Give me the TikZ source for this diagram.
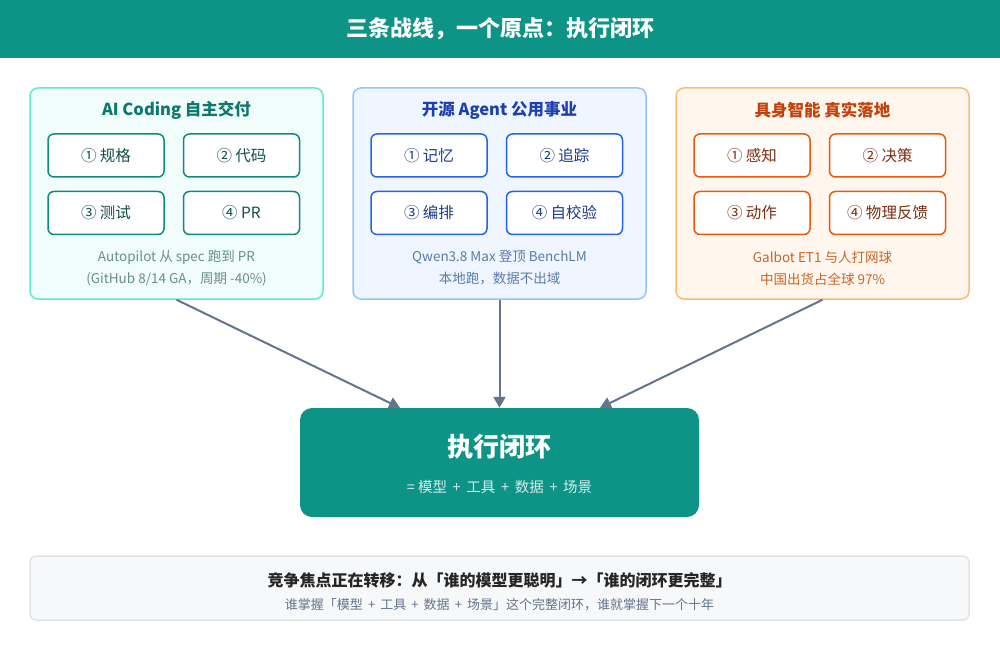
\documentclass[tikz,border=0pt]{standalone}
\usepackage{fontspec}
\setmainfont{Noto Sans CJK SC}
\usetikzlibrary{positioning,calc,arrows.meta}
\definecolor{teal0}{HTML}{0E9486}
\definecolor{slate}{HTML}{64748B}
\definecolor{gfill}{HTML}{F0FDFA}\definecolor{gline}{HTML}{5EEAD4}\definecolor{gdark}{HTML}{0F766E}\definecolor{gbox}{HTML}{0F8A7E}\definecolor{gtext}{HTML}{134E4A}\definecolor{gcap}{HTML}{6B8F8A}
\definecolor{bfill}{HTML}{EFF6FF}\definecolor{bline}{HTML}{93C5FD}\definecolor{bdark}{HTML}{1E40AF}\definecolor{bbox}{HTML}{2563EB}\definecolor{btext}{HTML}{1E3A8A}\definecolor{bcap}{HTML}{5B7BA6}
\definecolor{ofill}{HTML}{FFF7ED}\definecolor{oline}{HTML}{FDBA74}\definecolor{odark}{HTML}{C2410C}\definecolor{obox}{HTML}{EA580C}\definecolor{otext}{HTML}{7C2D12}\definecolor{ocap}{HTML}{C8652A}
\begin{document}
\begin{tikzpicture}[x=1pt,y=-1pt,
	panel/.style = {draw,line width=1.5pt,rounded corners=8pt,minimum width=293pt,minimum height=211pt,inner sep=0pt},
	stage/.style = {draw,line width=1.5pt,rounded corners=6pt,fill=white,minimum width=116pt,minimum height=43pt,inner sep=0pt,font=\fontsize{15.5}{18}\selectfont},
	ptitle/.style = {font=\fontsize{16.5}{20}\selectfont\bfseries},
	caption/.style = {font=\fontsize{13.5}{22}\selectfont,align=center},
	feed/.style = {draw=slate,line width=2pt,-{Triangle[length=11pt,width=12pt]}}]
	\useasboundingbox (0,0) rectangle (1000,660);
	\fill[teal0] (0,0) rectangle (1000,58);
	\node[text=white,font=\fontsize{22}{26}\selectfont\bfseries] (title) at (500,29) {三条战线，一个原点：执行闭环};
	
	% left panel
	\node[panel,draw=gline,fill=gfill] (cod) at (176.5,193.5) {};
	\node[ptitle,text=gdark] (codt) at (176.5,110) {AI Coding 自主交付};
	\node[stage,draw=gbox,text=gtext] (c1) at (106,155.5) {① 规格};
	\node[stage,draw=gbox,text=gtext] (c2) [right=18pt of c1] {② 代码};
	\node[stage,draw=gbox,text=gtext] (c3) [below=13pt of c1] {③ 测试};
	\node[stage,draw=gbox,text=gtext] (c4) [right=18pt of c3] {④ PR};
	\node[caption,text=gcap] (codc) at (176.5,268) {Autopilot 从 spec 跑到 PR\\(GitHub 8/14 GA，周期 -40\%)};
	
	% middle panel
	\node[panel,draw=bline,fill=bfill] (oss) at (499.5,193.5) {};
	\node[ptitle,text=bdark] (osst) at (499.5,110) {开源 Agent 公用事业};
	\node[stage,draw=bbox,text=btext] (o1) at (429,155.5) {① 记忆};
	\node[stage,draw=bbox,text=btext] (o2) [right=18pt of o1] {② 追踪};
	\node[stage,draw=bbox,text=btext] (o3) [below=13pt of o1] {③ 编排};
	\node[stage,draw=bbox,text=btext] (o4) [right=18pt of o3] {④ 自校验};
	\node[caption,text=bcap] (ossc) at (499.5,268) {Qwen3.8 Max 登顶 BenchLM\\本地跑，数据不出域};
	
	% right panel
	\node[panel,draw=oline,fill=ofill] (emb) at (822.5,193.5) {};
	\node[ptitle,text=odark] (embt) at (822.5,110) {具身智能 真实落地};
	\node[stage,draw=obox,text=otext] (e1) at (752,155.5) {① 感知};
	\node[stage,draw=obox,text=otext] (e2) [right=18pt of e1] {② 决策};
	\node[stage,draw=obox,text=otext] (e3) [below=13pt of e1] {③ 动作};
	\node[stage,draw=obox,text=otext] (e4) [right=18pt of e3] {④ 物理反馈};
	\node[caption,text=ocap] (embc) at (822.5,268) {Galbot ET1 与人打网球\\中国出货占全球 97\%};
	
	% centre
	\node[fill=teal0,rounded corners=12pt,minimum width=399pt,minimum height=109pt] (loop) at (499.5,462.5) {};
	\node[text=white,font=\fontsize{26}{30}\selectfont\bfseries] (loopt) at (499.5,447) {执行闭环};
	\node[text=teal!15,font=\fontsize{14.5}{17}\selectfont] (loops) at (499.5,487) {=\ 模型 \,+\, 工具 \,+\, 数据 \,+\, 场景};
	
	\draw[feed] (cod.south) -- ($(loop.north)+(-99.5,0)$);
	\draw[feed] (oss.south) -- (loop.north);
	\draw[feed] (emb.south) -- ($(loop.north)+(100.5,0)$);
	
	% bottom note
	\node[draw=slate!20,line width=1.5pt,fill=slate!5,rounded corners=6pt,minimum width=939pt,minimum height=64pt] (note) at (499.5,588) {};
	\node[text=black!85,font=\fontsize{16}{19}\selectfont\bfseries] (notet) at (499.5,580) {竞争焦点正在转移：从「谁的模型更聪明」→「谁的闭环更完整」};
	\node[text=slate,font=\fontsize{13}{15}\selectfont] (notes) at (499.5,605) {谁掌握「模型 \,+\, 工具 \,+\, 数据 \,+\, 场景」这个完整闭环，谁就掌握下一个十年};
\end{tikzpicture}
\end{document}
